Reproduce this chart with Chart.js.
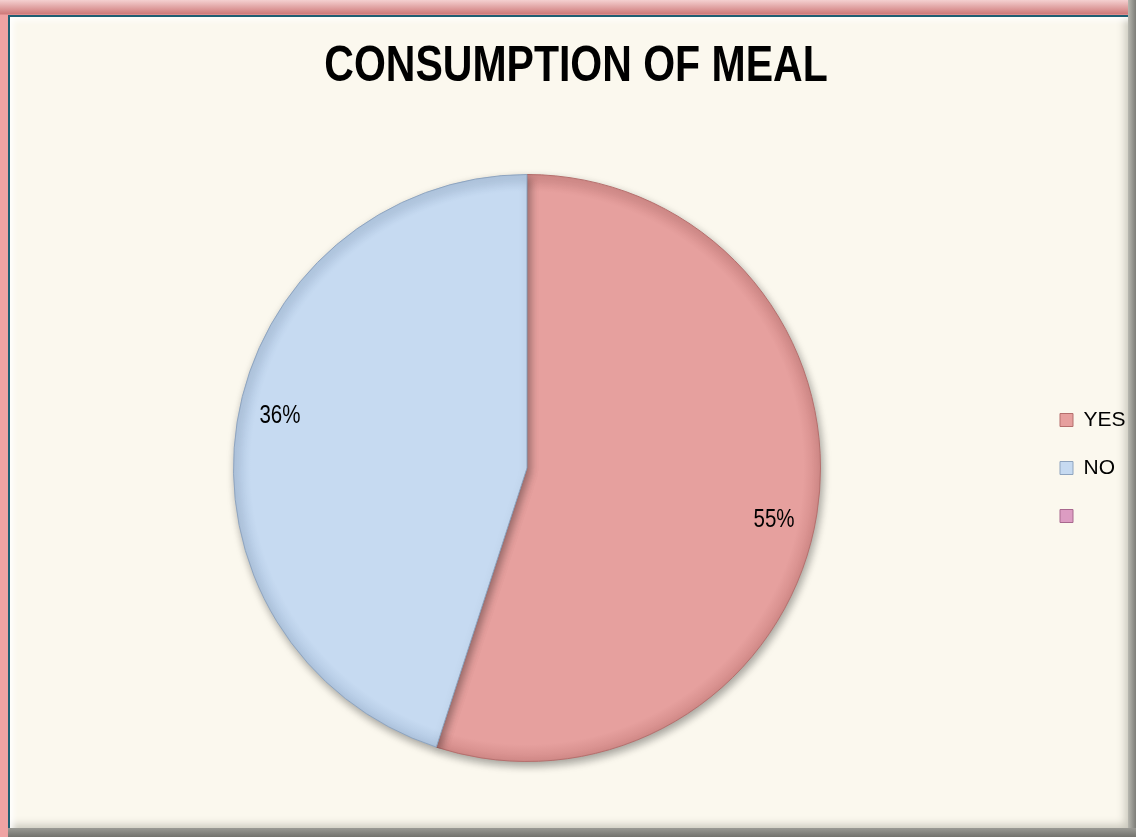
<!DOCTYPE html>
<html>
<head>
<meta charset="utf-8">
<script src="https://cdn.jsdelivr.net/npm/chart.js@4.4.1/dist/chart.umd.min.js"></script>
<style>
  html, body { margin: 0; padding: 0; }
  body { width: 1136px; height: 837px; position: relative; overflow: hidden;
         background: linear-gradient(to bottom, #f4d0d0 0px, #cf7a7a 14px, #efa3a3 15px); }
  #edgeRight { position: absolute; left: 1128px; top: 0; width: 8px; height: 837px;
               background: linear-gradient(to right, #b8b8b0, #7d7d78); }
  #edgeBottom { position: absolute; left: 8px; top: 828px; width: 1128px; height: 9px;
                background: linear-gradient(to bottom, #9a9a94, #73736e); }
  #frame { position: absolute; left: 8px; top: 15px; width: 1120px; height: 813px;
           box-sizing: border-box; border-top: 2px solid #1f5f73; border-left: 2px solid #1f5f73;
           background: #fbf8ee;
           box-shadow: inset 6px 6px 6px -3px #ffffff, inset -6px -6px 8px -3px #c9c7bc; }
  #wrap { position: absolute; left: 0; top: 0; width: 1118px; height: 811px; }
</style>
</head>
<body>
<div id="edgeRight"></div>
<div id="edgeBottom"></div>
<div id="frame"><div id="wrap"><canvas id="chart"></canvas></div></div>
<script>
( function () {
	'use strict';

	// ── Data ─────────────────────────────────────────────────────────────
	const TITLE = 'CONSUMPTION OF MEAL';
	const CATEGORIES = [ 'YES', 'NO', '' ];
	const VALUES = [ 55, 45, 0 ];              // slice sizes as drawn
	const SLICE_LABELS = [ '55%', '36%', '' ]; // text printed on the slices
	const COLOURS = [ '#e6a09e', '#c6daf1', '#dc9cc2' ];
	const RIMS = [ '#d28a88', '#b0c6e0', '#c886ae' ];
	const EDGES = [ '#b56f6d', '#8ea4bf', '#a8688e' ];

	const FONT = "'Liberation Sans', Arial, sans-serif";
	const SQUEEZE = 0.82; // narrow look, no condensed face installed

	function narrowText( ctx, text, x, y ) {
		ctx.save();
		ctx.translate( x, y );
		ctx.scale( SQUEEZE, 1 );
		ctx.fillText( text, 0, 0 );
		ctx.restore();
	}

	// soft bevel: flat colour with a slightly darker rim
	function sliceFill( context ) {
		const i = context.dataIndex;
		const area = context.chart.chartArea;
		if ( ! area || context.type !== 'data' ) {
			return COLOURS[ i ];
		}
		const cx = ( area.left + area.right ) / 2;
		const cy = ( area.top + area.bottom ) / 2;
		const r = Math.min( area.right - area.left, area.bottom - area.top ) / 2;
		const g = context.chart.ctx.createRadialGradient( cx, cy, 0, cx, cy, r );
		g.addColorStop( 0, COLOURS[ i ] );
		g.addColorStop( 0.94, COLOURS[ i ] );
		g.addColorStop( 1, RIMS[ i ] );
		return g;
	}

	// condensed bold title drawn in the space kept free by layout padding
	const narrowTitle = {
		id: 'narrowTitle',
		afterDraw( chart ) {
			const ctx = chart.ctx;
			ctx.save();
			ctx.fillStyle = '#000';
			ctx.font = 'bold 50px ' + FONT;
			ctx.textAlign = 'center';
			ctx.textBaseline = 'middle';
			narrowText( ctx, TITLE, 566, 50 );
			ctx.restore();
		},
	};

	// shadow under the pie + percentage text on each slice
	const sliceLabels = {
		id: 'sliceLabels',
		beforeDatasetsDraw( chart ) {
			const ctx = chart.ctx;
			ctx.save();
			ctx.shadowColor = 'rgba(0,0,0,0.35)';
			ctx.shadowBlur = 9;
			ctx.shadowOffsetX = 2;
			ctx.shadowOffsetY = 4;
		},
		afterDatasetsDraw( chart ) {
			const ctx = chart.ctx;
			ctx.restore();
			const meta = chart.getDatasetMeta( 0 );
			ctx.save();
			ctx.fillStyle = '#000';
			ctx.font = '25px ' + FONT;
			ctx.textAlign = 'center';
			ctx.textBaseline = 'middle';
			meta.data.forEach( function ( arc, i ) {
				if ( ! SLICE_LABELS[ i ] ) {
					return;
				}
				const p = arc.getProps( [ 'x', 'y', 'startAngle', 'endAngle', 'outerRadius' ], true );
				const mid = ( p.startAngle + p.endAngle ) / 2 + 0.05;
				const r = p.outerRadius * 0.86;
				narrowText( ctx, SLICE_LABELS[ i ], p.x + Math.cos( mid ) * r, p.y + Math.sin( mid ) * r );
			} );
			ctx.restore();
		},
	};

	new Chart( document.getElementById( 'chart' ), {
		type: 'pie',
		data: {
			labels: CATEGORIES,
			datasets: [ {
				data: VALUES,
				backgroundColor: sliceFill,
				borderColor: EDGES,
				borderWidth: 1,
			} ],
		},
		options: {
			responsive: true,
			maintainAspectRatio: false,
			animation: false,
			layout: { padding: { left: 11, right: 0, top: 157, bottom: 66 } },
			plugins: {
				title: { display: false },
				legend: {
					position: 'right',
					maxWidth: 95,
					labels: {
						color: '#000',
						font: { family: FONT, size: 21 },
						boxWidth: 13,
						boxHeight: 13,
						padding: 27,
						generateLabels: function ( chart ) {
							return CATEGORIES.map( function ( name, i ) {
								return {
									text: name,
									fillStyle: COLOURS[ i ],
									strokeStyle: EDGES[ i ],
									lineWidth: 1,
									fontColor: '#000',
									hidden: false,
									index: i,
								};
							} );
						},
					},
				},
				tooltip: { enabled: false },
			},
		},
		plugins: [ sliceLabels, narrowTitle ],
	} );
} )();
</script>
</body>
</html>
